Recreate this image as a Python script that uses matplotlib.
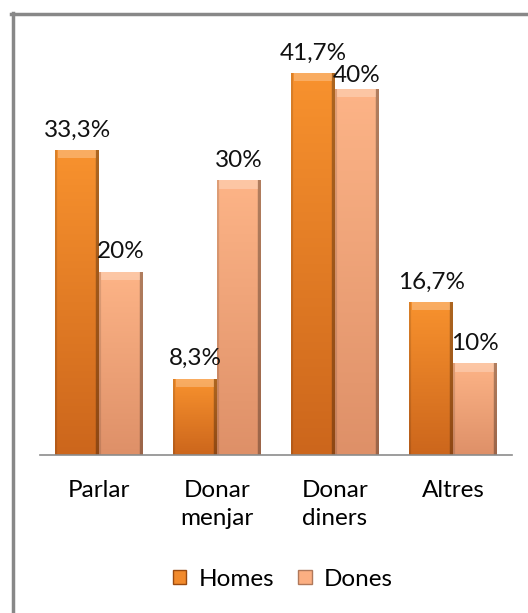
import numpy as np
import matplotlib
matplotlib.use("Agg")
import matplotlib.pyplot as plt
from matplotlib.colors import to_rgb
from matplotlib.patches import Rectangle

categories = ["Parlar", "Donar\nmenjar", "Donar\ndiners", "Altres"]
homes = [33.3, 8.3, 41.7, 16.7]
dones = [20, 30, 40, 10]
homes_labels = ["33,3%", "8,3%", "41,7%", "16,7%"]
dones_labels = ["20%", "30%", "40%", "10%"]

plt.rcParams['font.family'] = ['Lato', 'DejaVu Sans']

fig = plt.figure(figsize=(5.28, 6.13), dpi=100)
ax = fig.add_axes([40 / 528, 158 / 613, 472 / 528, 412 / 613])


def shaded(ax, bars, top, bottom):
    top = np.array(to_rgb(top))
    bottom = np.array(to_rgb(bottom))
    ny, nx = 200, 40
    t = np.linspace(0, 1, ny)[:, None, None]
    img = top * (1 - t) + bottom * t
    img = np.repeat(img, nx, axis=1)
    xs = np.linspace(0, 1, nx)
    edge = np.ones(nx)
    edge[xs > 0.93] = 0.7
    edge[xs < 0.05] = 0.88
    img = img * edge[None, :, None]
    for b in bars:
        x0, w, h = b.get_x(), b.get_width(), b.get_height()
        im = ax.imshow(img, extent=[x0, x0 + w, 0, h], origin='upper',
                       aspect='auto', zorder=2)
        im.set_clip_path(b)
        # light bevel on top
        ax.add_patch(Rectangle((x0 + w * 0.05, h - 0.9), w * 0.88, 0.9,
                               facecolor='white', alpha=0.25, lw=0, zorder=3))


x = np.arange(len(categories))
w = 0.37
b1 = ax.bar(x - w / 2, homes, w, color='#F28A2C', edgecolor='none', zorder=1)
b2 = ax.bar(x + w / 2, dones, w, color='#FCAF82', edgecolor='none', zorder=1)
shaded(ax, b1, '#F8922E', '#CC661C')
shaded(ax, b2, '#FDB487', '#DE9068')

fs = 17.5
for b, lab in zip(b1, homes_labels):
    ax.annotate(lab, (b.get_x() + b.get_width() / 2, b.get_height()),
                xytext=(0, 7), textcoords='offset points', ha='center',
                va='bottom', fontsize=fs, color='#111111')
for i, (b, lab) in enumerate(zip(b2, dones_labels)):
    dy = 2 if i == 2 else 7  # Excel pushed this one down next to 41,7%
    ax.annotate(lab, (b.get_x() + b.get_width() / 2, b.get_height()),
                xytext=(0, dy), textcoords='offset points', ha='center',
                va='bottom', fontsize=fs, color='#111111')

ax.set_xlim(-0.5, 3.5)
ax.set_ylim(0, 45)
ax.set_xticks(x)
ax.set_xticklabels(categories, fontsize=fs, linespacing=1.4)
ax.tick_params(axis='x', length=0, pad=18)
ax.set_yticks([])
for s in ['top', 'right', 'left']:
    ax.spines[s].set_visible(False)
ax.spines['bottom'].set_color('#8c8c8c')
ax.spines['bottom'].set_linewidth(1.2)
ax.patch.set_alpha(0)

leg = fig.legend([b1, b2], ["Homes", "Dones"], loc='center',
                 bbox_to_anchor=(283 / 528, 1 - 579 / 613), ncol=2,
                 frameon=False, fontsize=fs, handlelength=0.55,
                 handleheight=0.55, handletextpad=0.5, columnspacing=1.0)
leg.legend_handles[0].set_edgecolor('#9a4a10')
leg.legend_handles[1].set_edgecolor('#b0785a')

# chart frame (only top and left visible in the crop)
fig.add_artist(plt.Line2D([12.5 / 528, 12.5 / 528], [0, 1 - 13 / 613],
                          color='#888888', lw=2.5, transform=fig.transFigure))
fig.add_artist(plt.Line2D([11 / 528, 1], [1 - 14 / 613, 1 - 14 / 613],
                          color='#888888', lw=2.5, transform=fig.transFigure))

fig.savefig("out.png", dpi=100)
